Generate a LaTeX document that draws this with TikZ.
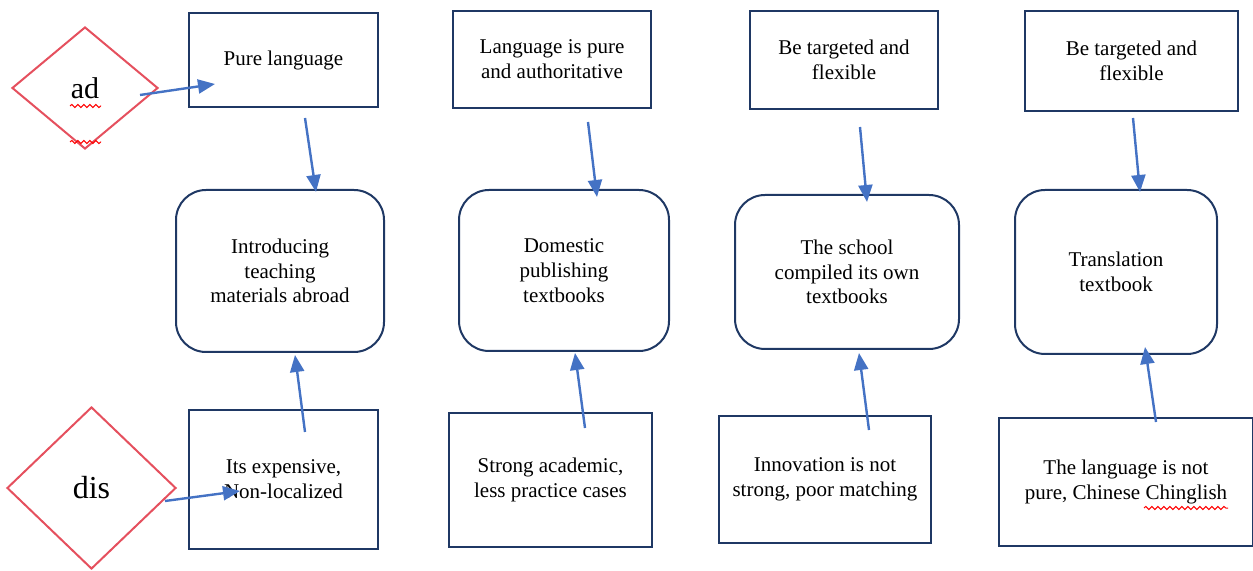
\documentclass[tikz,border=0pt]{standalone}
\usepackage{fontspec}
\setmainfont{Liberation Serif}
\usetikzlibrary{arrows.meta,shapes.geometric,decorations.pathmorphing}
\definecolor{navy}{HTML}{1F3864}
\definecolor{arrowblue}{HTML}{4472C4}
\definecolor{diared}{HTML}{E5505E}
\definecolor{spellred}{HTML}{FF0000}
\begin{document}
\begin{tikzpicture}[x=0.5pt,y=-0.5pt,
  box/.style={draw=navy, line width=1pt, align=center, inner sep=0pt,
    font=\fontsize{10.5}{12.4}\selectfont},
  rbox/.style={box, rounded corners=15pt},
  dia/.style={diamond, draw=diared, line width=1pt, inner sep=0pt},
  arr/.style={draw=arrowblue, line width=1.2pt, -{Triangle[length=8.5pt,width=7pt]}},
  wavy/.style={draw=spellred, line width=0.5pt, decorate,
    decoration={snake, amplitude=0.8pt, segment length=3pt}}]
\useasboundingbox (0,0) rectangle (1253,571);

% diamonds
\node[dia, minimum width=73pt, minimum height=61pt, font=\fontsize{15}{17}\selectfont] (ad) at (85,88) {ad};
\node[dia, minimum width=84.5pt, minimum height=81pt, font=\fontsize{16}{18}\selectfont] (dis) at (91.5,488) {dis};

% top boxes
\node[box, minimum width=94.5pt, minimum height=47pt] (t1) at (283.5,60) {Pure language};
\node[box, minimum width=99pt, minimum height=48.5pt] (t2) at (552,59.5) {Language is pure\\and authoritative};
\node[box, minimum width=94pt, minimum height=49pt] (t3) at (844,60) {Be targeted and\\flexible};
\node[box, minimum width=106.5pt, minimum height=50pt] (t4) at (1131.5,61) {Be targeted and\\flexible};

% middle rounded boxes
\node[rbox, minimum width=104pt, minimum height=81pt] (m1) at (280,271) {Introducing\\teaching\\materials abroad};
\node[rbox, minimum width=105pt, minimum height=80.5pt] (m2) at (564,270.5) {Domestic\\publishing\\textbooks};
\node[rbox, minimum width=112pt, minimum height=77pt] (m3) at (847,272) {The school\\compiled its own\\textbooks};
\node[rbox, minimum width=101pt, minimum height=82pt] (m4) at (1116,272) {Translation\\textbook};

% bottom boxes
\node[box, minimum width=94.5pt, minimum height=69.5pt] (b1) at (283.5,479.5) {Its expensive,\\Non-localized};
\node[box, minimum width=101.5pt, minimum height=67pt] (b2) at (550.5,480) {Strong academic,\\less practice cases};
\node[box, minimum width=106pt, minimum height=63.5pt] (b3) at (825,479.5) {Innovation is not\\strong, poor matching};
\node[box, minimum width=127pt, minimum height=64pt] (b4) at (1126,482) {The language is not\\pure, Chinese Chinglish};

% arrow end points
\coordinate (adS) at (140,95);   \coordinate (adE) at (215,84);
\coordinate (t1S) at (305,118);  \coordinate (t1E) at (316,192);
\coordinate (t2S) at (588,122);  \coordinate (t2E) at (597,197);
\coordinate (t3S) at (860,127);  \coordinate (t3E) at (867,202);
\coordinate (t4S) at (1133,118); \coordinate (t4E) at (1140,192);
\coordinate (b1S) at (305,432);  \coordinate (b1E) at (295,355);
\coordinate (b2S) at (585,428);  \coordinate (b2E) at (575,353);
\coordinate (b3S) at (869,430);  \coordinate (b3E) at (859,353);
\coordinate (b4S) at (1156,422); \coordinate (b4E) at (1145,347);
\coordinate (disS) at (165,501); \coordinate (disE) at (240,491);

\draw[arr] (adS) -- (adE);
\draw[arr] (t1S) -- (t1E);
\draw[arr] (t2S) -- (t2E);
\draw[arr] (t3S) -- (t3E);
\draw[arr] (t4S) -- (t4E);
\draw[arr] (b1S) -- (b1E);
\draw[arr] (b2S) -- (b2E);
\draw[arr] (b3S) -- (b3E);
\draw[arr] (b4S) -- (b4E);
\draw[arr] (disS) -- (disE);

% spell-check underlines
\draw[wavy] (70,106) -- (101,106);
\draw[wavy] (70,142) -- (101,142);
\draw[wavy] (1144,508) -- (1228,508);
\end{tikzpicture}
\end{document}
